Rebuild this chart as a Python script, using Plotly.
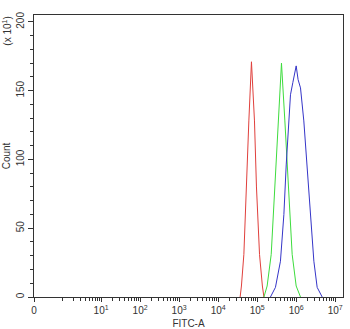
import plotly.graph_objects as go

# FITC-A intensity and event counts (in units of 10^1)
red_x = [3.66e4, 3.95e4, 4.56e4, 5.22e4, 6.12e4, 7.14e4, 8.53e4, 9.59e4, 1.15e5, 1.36e5, 1.49e5]
red_y = [0, 8, 31, 80, 128, 171, 128, 80, 31, 8, 0]

green_x = [1.49e5, 1.80e5, 2.29e5, 2.84e5, 3.40e5, 4.20e5, 5.13e5, 6.24e5, 7.89e5, 1.0e6, 1.29e6]
green_y = [0, 8, 31, 79, 128, 170, 128, 79, 31, 8, 0]

blue_x = [2.19e5, 2.94e5, 3.95e5, 4.84e5, 5.55e5, 6.50e5, 7.14e5, 8.22e5, 9.16e5, 1.0e6,
          1.12e6, 1.29e6, 1.57e6, 1.91e6, 2.33e6, 2.84e6, 3.45e6, 4.64e6]
blue_y = [0, 7, 26, 60, 96, 128, 147, 156, 162, 168, 158, 152, 128, 96, 60, 26, 7, 0]

x_tick_vals = [10 ** -0.72, 1e1, 1e2, 1e3, 1e4, 1e5, 1e6, 1e7]
x_tick_text = ["0", "10<sup>1</sup>", "10<sup>2</sup>", "10<sup>3</sup>", "10<sup>4</sup>",
               "10<sup>5</sup>", "10<sup>6</sup>", "10<sup>7</sup>"]
x_minor_vals = [k * 10 ** d for d in range(0, 7) for k in range(1, 10) if not (k == 1 and d > 0)]
y_tick_vals = [0, 50, 100, 150, 200]
y_minor_vals = list(range(0, 210, 10))

fig = go.Figure()
for xs, ys, col in [(red_x, red_y, "#e0403c"), (green_x, green_y, "#3ddc3d"), (blue_x, blue_y, "#3535c8")]:
    fig.add_trace(go.Scatter(x=xs, y=ys, mode="lines", line=dict(color=col, width=1),
                             showlegend=False, hoverinfo="skip"))

font = dict(family="Liberation Sans, Arial, sans-serif", size=10, color="#333")
fig.update_layout(
    width=350, height=329,
    margin=dict(l=34, r=7, t=15, b=32),
    paper_bgcolor="white", plot_bgcolor="white",
    font=font,
    xaxis=dict(type="log", range=[-0.72, 7.2], tickmode="array", tickvals=x_tick_vals,
               ticktext=x_tick_text, ticks="outside", ticklen=4, tickcolor="#333",
               showgrid=False, zeroline=False, showline=True, linecolor="#333", linewidth=1,
               mirror=True, automargin=False,
               minor=dict(tickmode="array", tickvals=x_minor_vals, ticks="outside", ticklen=3,
                          tickcolor="#333", showgrid=False),
               title=dict(text="FITC-A", standoff=4, font=dict(size=10)),
               tickfont=dict(size=10)),
    yaxis=dict(range=[0, 205], tickmode="array", tickvals=y_tick_vals, tickangle=-90,
               ticks="outside", ticklen=5, tickcolor="#333",
               showgrid=False, zeroline=False, showline=True, linecolor="#333", linewidth=1,
               mirror=True, automargin=False,
               minor=dict(tickmode="array", tickvals=y_minor_vals, ticks="outside", ticklen=3,
                          tickcolor="#333", showgrid=False),
               title=dict(text="Count", standoff=2, font=dict(size=10)),
               tickfont=dict(size=10)),
    annotations=[dict(text="(x 10<sup>1</sup>)", xref="paper", yref="paper", x=-0.09, y=1.0,
                      xanchor="center", yanchor="top", textangle=-90, showarrow=False,
                      font=dict(size=10, color="#333"))],
)
fig.write_html("out.html")
